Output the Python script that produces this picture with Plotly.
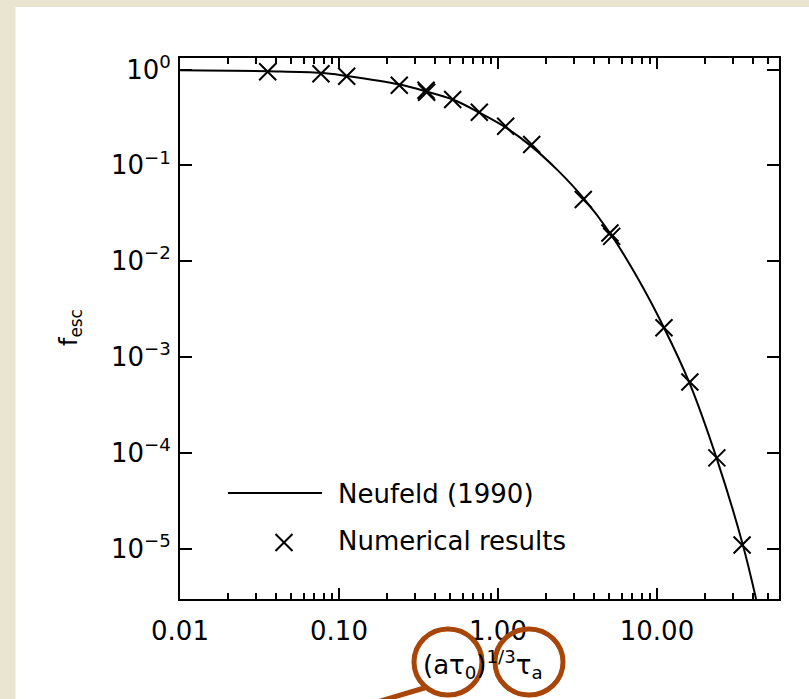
import plotly.graph_objects as go

# ---- data ----
curve_x = [0.01, 0.0356, 0.077, 0.112, 0.24, 0.35, 0.52, 0.76, 1.12, 1.63, 2.37, 3.44, 5.06, 7.48, 11.07, 16.1, 23.9, 34.7, 42.0]
curve_y = [0.98, 0.96, 0.924, 0.855, 0.697, 0.594, 0.486, 0.356, 0.248, 0.157, 0.0892, 0.0458, 0.0197, 6.9e-3, 2.03e-3, 5.27e-4, 8.5e-5, 1.1e-5, 3.0e-6]

pts_x = [0.0356, 0.0770, 0.1118, 0.2394, 0.3526, 0.356, 0.519, 0.763, 1.118, 1.629, 3.44, 5.06, 5.19, 11.07, 16.1, 23.8, 34.3]
pts_y = [0.946, 0.902, 0.851, 0.686, 0.608, 0.580, 0.486, 0.358, 0.256, 0.165, 0.0440, 0.0197, 0.0182, 2.03e-3, 5.5e-4, 8.9e-5, 1.1e-5]

x_tickvals = [0.01, 0.1, 1, 10]
x_ticktext = ["0.01", "0.10", "1.00", "10.00"]
y_tickvals = [1e-5, 1e-4, 1e-3, 1e-2, 1e-1, 1]
y_ticktext = ["10<sup>−5</sup>", "10<sup>−4</sup>", "10<sup>−3</sup>", "10<sup>−2</sup>", "10<sup>−1</sup>", "10<sup>0</sup>"]
x_minor = [m * 10 ** e for e in (-2, -1, 0, 1) for m in range(2, 10)]

legend_labels = ["Neufeld (1990)", "Numerical results"]
x_title = "(aτ<sub>0</sub>)<sup>1/3</sup>τ<sub>a</sub>"
y_title = "f<sub>esc</sub>"

# ---- layout geometry (pixels) ----
W, H = 809, 699
L, R, T, B = 180, 779, 58, 599

def px(x):
    return (x - L) / (R - L)

def py(y):
    return (B - y) / (B - T)

FONT = "DejaVu Sans"
BROWN = "#A84509"

fig = go.Figure()
fig.add_trace(go.Scatter(
    x=curve_x, y=curve_y, mode="lines",
    line=dict(color="black", width=2, shape="spline", smoothing=1.0),
    showlegend=False, hoverinfo="skip"))
fig.add_trace(go.Scatter(
    x=pts_x, y=pts_y, mode="markers",
    marker=dict(symbol="x-thin", size=17, color="black", line=dict(width=2, color="black")),
    showlegend=False))

axis_common = dict(
    showgrid=False, zeroline=False, showline=True, linecolor="black", linewidth=2,
    mirror="ticks", ticks="inside", tickcolor="black", tickwidth=2,
    tickfont=dict(family=FONT, size=26, color="black"),
)

fig.update_xaxes(type="log", range=[-2, 1.7675], tickmode="array",
                 tickvals=x_tickvals, ticktext=x_ticktext, ticklen=11,
                 ticklabelstandoff=8,
                 minor=dict(tickvals=x_minor, ticks="inside", ticklen=6, tickwidth=1.5, tickcolor="black"),
                 **axis_common)
fig.update_yaxes(type="log", range=[-5.522, 0.12], tickmode="array",
                 tickvals=y_tickvals, ticktext=y_ticktext, ticklen=12,
                 ticklabelstandoff=2,
                 **axis_common)

shapes = [
    # white panel on beige page
    dict(type="rect", xref="paper", yref="paper", x0=px(15.5), x1=px(815), y0=py(705), y1=py(7),
         fillcolor="white", line=dict(width=0), layer="below"),
    # legend line sample
    dict(type="line", xref="paper", yref="paper", x0=px(228), x1=px(322), y0=py(493), y1=py(493),
         line=dict(color="black", width=2)),
    # legend cross
    dict(type="line", xref="paper", yref="paper", x0=px(275.5), x1=px(292.5), y0=py(534), y1=py(551),
         line=dict(color="black", width=2)),
    dict(type="line", xref="paper", yref="paper", x0=px(275.5), x1=px(292.5), y0=py(551), y1=py(534),
         line=dict(color="black", width=2)),
    # brown highlight circles and pointer line
    dict(type="circle", xref="paper", yref="paper", x0=px(414), x1=px(482), y0=py(695), y1=py(629),
         line=dict(color=BROWN, width=5)),
    dict(type="circle", xref="paper", yref="paper", x0=px(495), x1=px(563), y0=py(695), y1=py(629),
         line=dict(color=BROWN, width=5)),
    dict(type="line", xref="paper", yref="paper", x0=px(340), x1=px(426), y0=py(713), y1=py(687.5),
         line=dict(color=BROWN, width=5)),
]

annotations = [
    dict(text=y_title, xref="paper", yref="paper", x=px(70), y=py(328), showarrow=False,
         xanchor="center", yanchor="middle",
         textangle=-90, font=dict(family=FONT, size=24, color="black")),
    dict(text=x_title, xref="paper", yref="paper", x=px(483), y=py(664), showarrow=False,
         xanchor="center", yanchor="middle",
         font=dict(family=FONT, size=26, color="black")),
    dict(text=legend_labels[0], xref="paper", yref="paper", x=px(336), y=py(494), showarrow=False,
         xanchor="left", yanchor="middle", font=dict(family=FONT, size=26, color="black")),
    dict(text=legend_labels[1], xref="paper", yref="paper", x=px(336), y=py(541), showarrow=False,
         xanchor="left", yanchor="middle", font=dict(family=FONT, size=26, color="black")),
]

fig.update_layout(
    width=W, height=H, autosize=False,
    margin=dict(l=L, r=W - R, t=T, b=H - B, pad=0),
    paper_bgcolor="#E9E5D1", plot_bgcolor="white",
    shapes=shapes, annotations=annotations,
    font=dict(family=FONT, color="black"),
)

fig.write_html("out.html")
